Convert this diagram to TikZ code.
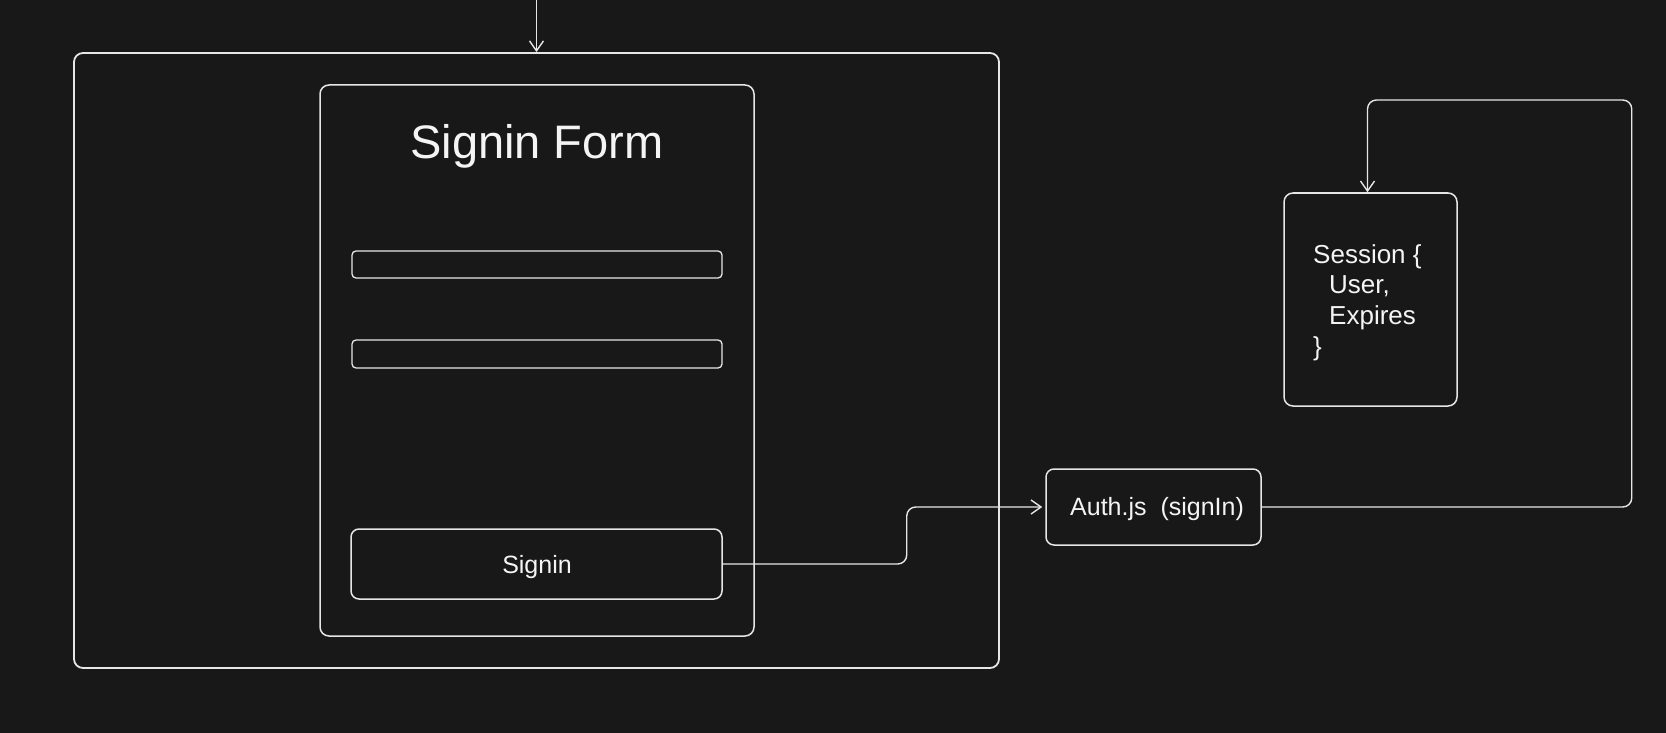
\documentclass[tikz,border=0pt]{standalone}
\usepackage{fontspec}
\setmainfont{Liberation Sans}
\usetikzlibrary{arrows.meta,calc}
\definecolor{bg}{HTML}{181818}
\definecolor{ink}{HTML}{E6E6E6}
\definecolor{txt}{HTML}{F4F4F4}
\tikzset{
  box/.style={draw=ink, line width=1.5pt, rounded corners=9pt, inner sep=0pt},
  field/.style={draw=ink, line width=1.3pt, rounded corners=4pt, inner sep=0pt, minimum width=370pt, minimum height=27pt},
  label/.style={text=txt, inner sep=0pt},
  conn/.style={draw=ink, line width=1.4pt, rounded corners=9pt, -{Straight Barb[length=10pt,width=14pt,line width=1.4pt]}},
}
\begin{document}
\begin{tikzpicture}[x=1pt,y=-1pt]
\fill[bg] (0,0) rectangle (1666,733);
\useasboundingbox (0,0) rectangle (1666,733);
\node[box, line width=1.8pt, minimum width=925pt, minimum height=615pt] (outer) at (536.5,360.5) {};
\node[box, minimum width=434pt, minimum height=551pt] (form) at (537,360.5) {};
\node[label, font=\fontsize{47}{56}\selectfont, anchor=base] (title) at (537,159) {Signin Form};
\node[field] (user) at (537,264.5) {};
\node[field, minimum height=28pt] (pass) at (537,354) {};
\node[box, rounded corners=8pt, minimum width=371pt, minimum height=70pt] (btn) at (536.5,564) {};
\node[label, font=\fontsize{25}{30}\selectfont, anchor=base] (btntext) at (537,573) {Signin};
\node[box, rounded corners=8pt, minimum width=215pt, minimum height=76pt] (auth) at (1153.5,507) {};
\node[label, font=\fontsize{25}{30}\selectfont, anchor=base west] (authtext) at (1070,515) {Auth.js\ \ (signIn)};
\node[box, rounded corners=9pt, minimum width=173pt, minimum height=213pt] (session) at (1370.5,299.5) {};
\node[label, font=\fontsize{26}{30.8}\selectfont, align=left, anchor=north west] (sesstext) at (1313,244) {Session \{\\\hspace*{16pt}User,\\\hspace*{16pt}Expires\\\}};
\coordinate (topin) at ($(outer.north)+(0,-53)$);
\draw[conn] (topin) -- (outer.north);
\draw[conn, shorten >=3pt] (btn.east) -- ++(184,0) |- (auth.west);
\draw[conn] (auth.east) -- ++(370,0) -- ++(0,-407) -| ($(session.north)+(-3,0)$);
\end{tikzpicture}
\end{document}
